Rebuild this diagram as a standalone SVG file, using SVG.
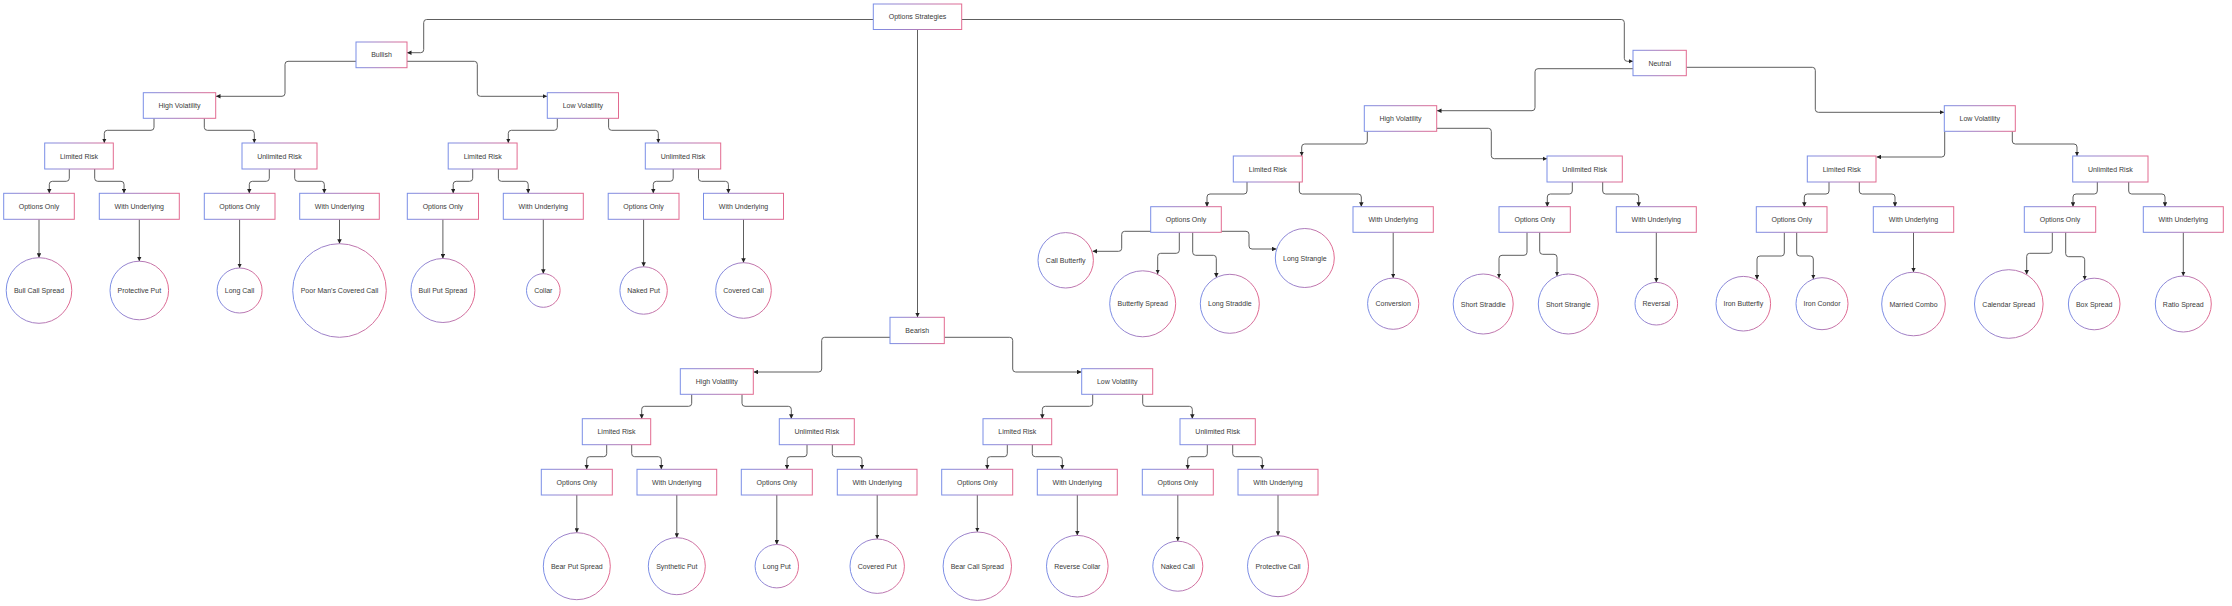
<svg xmlns="http://www.w3.org/2000/svg" width="2232" height="606" viewBox="0 0 2232 606">
<style>
.n rect,.n circle{fill:#ffffff;stroke:url(#g);stroke-width:1}
.n text{font-family:"Liberation Sans",Arial,sans-serif;font-size:7px;fill:#3a3a3a;text-anchor:middle;dominant-baseline:central}
#edges path{fill:none;stroke:#5e5e5e;stroke-width:1;marker-end:url(#arr)}
</style>
<defs>
<linearGradient id="g" x1="0" y1="0" x2="1" y2="0">
<stop offset="0" stop-color="#7a8ee6"/>
<stop offset="1" stop-color="#e26a90"/>
</linearGradient>
<marker id="arr" viewBox="0 0 10 10" refX="10" refY="5" markerUnits="userSpaceOnUse" markerWidth="4.5" markerHeight="4.5" orient="auto">
<path d="M0,0 L10,5 L0,10 z" fill="#222222"/>
</marker>
</defs>
<rect width="2232" height="606" fill="#ffffff"/>
<g id="edges">
<path d="M873.3,19.5 H426.7 Q423.7,19.5 423.7,22.5 V49.7 Q423.7,52.7 420.7,52.7 H407"/>
<path d="M961.7,19.5 H1621.3 Q1624.3,19.5 1624.3,22.5 V58.3 Q1624.3,61.3 1627.3,61.3 H1633"/>
<path d="M917.5,29.5 V317.3"/>
<path d="M356,61.3 H288 Q285,61.3 285,64.3 V93.3 Q285,96.3 282,96.3 H216"/>
<path d="M407,61.3 H474.3 Q477.3,61.3 477.3,64.3 V93.3 Q477.3,96.3 480.3,96.3 H547"/>
<path d="M154,118.3 V127.3 Q154,130.3 151,130.3 H107.3 Q104.3,130.3 104.3,133.3 V143"/>
<path d="M204.3,118.3 V127.3 Q204.3,130.3 207.3,130.3 H251.3 Q254.3,130.3 254.3,133.3 V143"/>
<path d="M69.3,169 V178.3 Q69.3,181.3 66.3,181.3 H52.3 Q49.3,181.3 49.3,184.3 V193.3"/>
<path d="M94.7,169 V178.3 Q94.7,181.3 97.7,181.3 H121 Q124,181.3 124,184.3 V193.3"/>
<path d="M269.3,169 V178.3 Q269.3,181.3 266.3,181.3 H252.3 Q249.3,181.3 249.3,184.3 V193.3"/>
<path d="M294.7,169 V178.3 Q294.7,181.3 297.7,181.3 H321.3 Q324.3,181.3 324.3,184.3 V193.3"/>
<path d="M557.3,118.3 V127.3 Q557.3,130.3 554.3,130.3 H511.3 Q508.3,130.3 508.3,133.3 V143"/>
<path d="M608.6,118.3 V127.3 Q608.6,130.3 611.6,130.3 H655.3 Q658.3,130.3 658.3,133.3 V143"/>
<path d="M472.7,169 V178.3 Q472.7,181.3 469.7,181.3 H456.2 Q453.2,181.3 453.2,184.3 V193.3"/>
<path d="M498.4,169 V178.3 Q498.4,181.3 501.4,181.3 H525.2 Q528.2,181.3 528.2,184.3 V193.3"/>
<path d="M673.2,169 V178.3 Q673.2,181.3 670.2,181.3 H656.3 Q653.3,181.3 653.3,184.3 V193.3"/>
<path d="M698.5,169 V178.3 Q698.5,181.3 701.5,181.3 H725.4 Q728.4,181.3 728.4,184.3 V193.3"/>
<path d="M39,219.3 V257.7"/>
<path d="M139.3,219.3 V261.2"/>
<path d="M239.6,219.3 V268"/>
<path d="M339.5,219.3 V243.7"/>
<path d="M442.9,219.3 V258.5"/>
<path d="M543.3,219.3 V273.7"/>
<path d="M643.6,219.3 V266.8"/>
<path d="M743.5,219.3 V262.7"/>
<path d="M890,337.3 H824.7 Q821.7,337.3 821.7,340.3 V369 Q821.7,372 818.7,372 H753.5"/>
<path d="M944.3,337.3 H1009.7 Q1012.7,337.3 1012.7,340.3 V369 Q1012.7,372 1015.7,372 H1081.5"/>
<path d="M691.7,394.3 V403.3 Q691.7,406.3 688.7,406.3 H644.7 Q641.7,406.3 641.7,409.3 V418.7"/>
<path d="M742,394.3 V403.3 Q742,406.3 745,406.3 H788.3 Q791.3,406.3 791.3,409.3 V418.7"/>
<path d="M606.7,444.7 V453.7 Q606.7,456.7 603.7,456.7 H589.7 Q586.7,456.7 586.7,459.7 V469.3"/>
<path d="M631.7,444.7 V453.7 Q631.7,456.7 634.7,456.7 H658.3 Q661.3,456.7 661.3,459.7 V469.3"/>
<path d="M807,444.7 V453.7 Q807,456.7 804,456.7 H790 Q787,456.7 787,459.7 V469.3"/>
<path d="M832.3,444.7 V453.7 Q832.3,456.7 835.3,456.7 H859 Q862,456.7 862,459.7 V469.3"/>
<path d="M1092.7,394.3 V403.3 Q1092.7,406.3 1089.7,406.3 H1045.3 Q1042.3,406.3 1042.3,409.3 V418.7"/>
<path d="M1142.7,394.3 V403.3 Q1142.7,406.3 1145.7,406.3 H1189.3 Q1192.3,406.3 1192.3,409.3 V418.7"/>
<path d="M1007.3,444.7 V453.7 Q1007.3,456.7 1004.3,456.7 H990.3 Q987.3,456.7 987.3,459.7 V469.3"/>
<path d="M1032.3,444.7 V453.7 Q1032.3,456.7 1035.3,456.7 H1059.3 Q1062.3,456.7 1062.3,459.7 V469.3"/>
<path d="M1207.3,444.7 V453.7 Q1207.3,456.7 1204.3,456.7 H1190.7 Q1187.7,456.7 1187.7,459.7 V469.3"/>
<path d="M1232.7,444.7 V453.7 Q1232.7,456.7 1235.7,456.7 H1259.3 Q1262.3,456.7 1262.3,459.7 V469.3"/>
<path d="M576.8,495 V532.7"/>
<path d="M676.8,495 V537.7"/>
<path d="M776.8,495 V544.5"/>
<path d="M877.2,495 V539"/>
<path d="M977.3,495 V532"/>
<path d="M1077.3,495 V535.4"/>
<path d="M1177.8,495 V541.2"/>
<path d="M1278,495 V535.7"/>
<path d="M1633,68.7 H1538 Q1535,68.7 1535,71.7 V107.7 Q1535,110.7 1532,110.7 H1437"/>
<path d="M1686.3,67.3 H1812.3 Q1815.3,67.3 1815.3,70.3 V109.3 Q1815.3,112.3 1818.3,112.3 H1944"/>
<path d="M1367.3,131.3 V141 Q1367.3,144 1364.3,144 H1304.7 Q1301.7,144 1301.7,147 V156"/>
<path d="M1436.7,128.3 H1488.3 Q1491.3,128.3 1491.3,131.3 V155.7 Q1491.3,158.7 1494.3,158.7 H1547"/>
<path d="M1247,182 V191 Q1247,194 1244,194 H1210 Q1207,194 1207,197 V206.7"/>
<path d="M1299.3,182 V191 Q1299.3,194 1302.3,194 H1358.3 Q1361.3,194 1361.3,197 V206.7"/>
<path d="M1151,231.3 H1124.7 Q1121.7,231.3 1121.7,234.3 V248.3 Q1121.7,251.3 1118.7,251.3 H1092.5"/>
<path d="M1179.3,232.3 V250.3 Q1179.3,253.3 1176.3,253.3 H1160.7 Q1157.7,253.3 1157.7,256.3 V274"/>
<path d="M1192.7,232.3 V252.3 Q1192.7,255.3 1195.7,255.3 H1213.3 Q1216.3,255.3 1216.3,258.3 V277.5"/>
<path d="M1221.3,231.3 H1246 Q1249,231.3 1249,234.3 V246 Q1249,249 1252,249 H1276.5"/>
<path d="M1393.2,232.3 V278.1"/>
<path d="M1572.3,182 V191 Q1572.3,194 1569.3,194 H1550.3 Q1547.3,194 1547.3,197 V206.7"/>
<path d="M1602.7,182 V191 Q1602.7,194 1605.7,194 H1635.7 Q1638.7,194 1638.7,197 V206.7"/>
<path d="M1527,232.3 V252.3 Q1527,255.3 1524,255.3 H1502 Q1499,255.3 1499,258.3 V278"/>
<path d="M1539.7,232.3 V251.3 Q1539.7,254.3 1542.7,254.3 H1554 Q1557,254.3 1557,257.3 V276"/>
<path d="M1656.3,232.3 V282.4"/>
<path d="M1944.7,131.3 V154 Q1944.7,157 1941.7,157 H1876.5"/>
<path d="M2012.3,131.3 V141 Q2012.3,144 2015.3,144 H2074 Q2077,144 2077,147 V156"/>
<path d="M1829,182 V191 Q1829,194 1826,194 H1807.3 Q1804.3,194 1804.3,197 V206.7"/>
<path d="M1859.3,182 V191 Q1859.3,194 1862.3,194 H1892 Q1895,194 1895,197 V206.7"/>
<path d="M1784.3,232.3 V253 Q1784.3,256 1781.3,256 H1760 Q1757,256 1757,259 V279.5"/>
<path d="M1796.7,232.3 V253 Q1796.7,256 1799.7,256 H1810.3 Q1813.3,256 1813.3,259 V279"/>
<path d="M1913.5,232.3 V272.2"/>
<path d="M2097.3,182 V191 Q2097.3,194 2094.3,194 H2076 Q2073,194 2073,197 V206.7"/>
<path d="M2128.7,182 V191 Q2128.7,194 2131.7,194 H2162 Q2165,194 2165,197 V206.7"/>
<path d="M2052.3,232.3 V250.3 Q2052.3,253.3 2049.3,253.3 H2029.7 Q2026.7,253.3 2026.7,256.3 V274.5"/>
<path d="M2065.7,232.3 V253.7 Q2065.7,256.7 2068.7,256.7 H2081.7 Q2084.7,256.7 2084.7,259.7 V280"/>
<path d="M2183.3,232.3 V276"/>
</g>
<g id="root" class="n"><rect x="873.3" y="4" width="88.4" height="25.5"/><text x="917.5" y="16.75">Options Strategies</text></g>
<g id="bullish" class="n"><rect x="356" y="42" width="51" height="25.7"/><text x="381.5" y="54.85">Bullish</text></g>
<g id="bu_hv" class="n"><rect x="143.3" y="92.7" width="72.4" height="25.6"/><text x="179.5" y="105.5">High Volatility</text></g>
<g id="bu_lv" class="n"><rect x="547.3" y="92.7" width="71.2" height="25.6"/><text x="582.9" y="105.5">Low Volatility</text></g>
<g id="bu_hv_lr" class="n"><rect x="44.7" y="143" width="68.6" height="26"/><text x="79" y="156">Limited Risk</text></g>
<g id="bu_hv_ur" class="n"><rect x="242" y="143" width="75" height="26"/><text x="279.5" y="156">Unlimited Risk</text></g>
<g id="bu_lv_lr" class="n"><rect x="448.2" y="143" width="68.9" height="26"/><text x="482.7" y="156">Limited Risk</text></g>
<g id="bu_lv_ur" class="n"><rect x="645.3" y="143" width="75.4" height="26"/><text x="683" y="156">Unlimited Risk</text></g>
<g id="bu_hv_lr_oo" class="n"><rect x="3.7" y="193.3" width="70.6" height="26"/><text x="39" y="206.3">Options Only</text></g>
<g id="bu_hv_lr_wu" class="n"><rect x="99.3" y="193.3" width="80" height="26"/><text x="139.3" y="206.3">With Underlying</text></g>
<g id="bu_hv_ur_oo" class="n"><rect x="204.3" y="193.3" width="70.7" height="26"/><text x="239.6" y="206.3">Options Only</text></g>
<g id="bu_hv_ur_wu" class="n"><rect x="299.7" y="193.3" width="79.6" height="26"/><text x="339.5" y="206.3">With Underlying</text></g>
<g id="bu_lv_lr_oo" class="n"><rect x="407.3" y="193.3" width="71.2" height="26"/><text x="442.9" y="206.3">Options Only</text></g>
<g id="bu_lv_lr_wu" class="n"><rect x="503.3" y="193.3" width="80" height="26"/><text x="543.3" y="206.3">With Underlying</text></g>
<g id="bu_lv_ur_oo" class="n"><rect x="608.2" y="193.3" width="70.8" height="26"/><text x="643.6" y="206.3">Options Only</text></g>
<g id="bu_lv_ur_wu" class="n"><rect x="703.5" y="193.3" width="80" height="26"/><text x="743.5" y="206.3">With Underlying</text></g>
<g id="bull_call_spread" class="n"><circle cx="39" cy="290.5" r="32.8"/><text x="39" y="290.5">Bull Call Spread</text></g>
<g id="protective_put" class="n"><circle cx="139.3" cy="290.5" r="29.3"/><text x="139.3" y="290.5">Protective Put</text></g>
<g id="long_call" class="n"><circle cx="239.6" cy="290.5" r="22.5"/><text x="239.6" y="290.5">Long Call</text></g>
<g id="pmcc" class="n"><circle cx="339.5" cy="290.5" r="46.8"/><text x="339.5" y="290.5">Poor Man's Covered Call</text></g>
<g id="bull_put_spread" class="n"><circle cx="442.9" cy="290.5" r="32"/><text x="442.9" y="290.5">Bull Put Spread</text></g>
<g id="collar" class="n"><circle cx="543.3" cy="290.5" r="16.8"/><text x="543.3" y="290.5">Collar</text></g>
<g id="naked_put" class="n"><circle cx="643.6" cy="290.5" r="23.7"/><text x="643.6" y="290.5">Naked Put</text></g>
<g id="covered_call" class="n"><circle cx="743.5" cy="290.5" r="27.8"/><text x="743.5" y="290.5">Covered Call</text></g>
<g id="bearish" class="n"><rect x="890" y="317.3" width="54.3" height="26.3"/><text x="917.2" y="330.5">Bearish</text></g>
<g id="be_hv" class="n"><rect x="680.3" y="368.7" width="73" height="25.6"/><text x="716.8" y="381.5">High Volatility</text></g>
<g id="be_lv" class="n"><rect x="1081.7" y="368.7" width="71" height="25.6"/><text x="1117.2" y="381.5">Low Volatility</text></g>
<g id="be_hv_lr" class="n"><rect x="582.3" y="418.7" width="68.4" height="26"/><text x="616.5" y="431.7">Limited Risk</text></g>
<g id="be_hv_ur" class="n"><rect x="779.3" y="418.7" width="75" height="26"/><text x="816.8" y="431.7">Unlimited Risk</text></g>
<g id="be_lv_lr" class="n"><rect x="983" y="418.7" width="68.7" height="26"/><text x="1017.3" y="431.7">Limited Risk</text></g>
<g id="be_lv_ur" class="n"><rect x="1180" y="418.7" width="75.3" height="26"/><text x="1217.7" y="431.7">Unlimited Risk</text></g>
<g id="be_hv_lr_oo" class="n"><rect x="541.3" y="469.3" width="71" height="25.7"/><text x="576.8" y="482.2">Options Only</text></g>
<g id="be_hv_lr_wu" class="n"><rect x="637" y="469.3" width="79.7" height="25.7"/><text x="676.8" y="482.2">With Underlying</text></g>
<g id="be_hv_ur_oo" class="n"><rect x="741.3" y="469.3" width="71" height="25.7"/><text x="776.8" y="482.2">Options Only</text></g>
<g id="be_hv_ur_wu" class="n"><rect x="837.3" y="469.3" width="79.7" height="25.7"/><text x="877.2" y="482.2">With Underlying</text></g>
<g id="be_lv_lr_oo" class="n"><rect x="941.7" y="469.3" width="71" height="25.7"/><text x="977.2" y="482.2">Options Only</text></g>
<g id="be_lv_lr_wu" class="n"><rect x="1037.3" y="469.3" width="80" height="25.7"/><text x="1077.3" y="482.2">With Underlying</text></g>
<g id="be_lv_ur_oo" class="n"><rect x="1142.3" y="469.3" width="71" height="25.7"/><text x="1177.8" y="482.2">Options Only</text></g>
<g id="be_lv_ur_wu" class="n"><rect x="1238" y="469.3" width="80" height="25.7"/><text x="1278" y="482.2">With Underlying</text></g>
<g id="bear_put_spread" class="n"><circle cx="576.8" cy="566.2" r="33.5"/><text x="576.8" y="566.2">Bear Put Spread</text></g>
<g id="synthetic_put" class="n"><circle cx="676.8" cy="566.2" r="28.5"/><text x="676.8" y="566.2">Synthetic Put</text></g>
<g id="long_put" class="n"><circle cx="776.8" cy="566.2" r="21.7"/><text x="776.8" y="566.2">Long Put</text></g>
<g id="covered_put" class="n"><circle cx="877.2" cy="566.2" r="27.2"/><text x="877.2" y="566.2">Covered Put</text></g>
<g id="bear_call_spread" class="n"><circle cx="977.3" cy="566.2" r="34.2"/><text x="977.3" y="566.2">Bear Call Spread</text></g>
<g id="reverse_collar" class="n"><circle cx="1077.3" cy="566.2" r="30.8"/><text x="1077.3" y="566.2">Reverse Collar</text></g>
<g id="naked_call" class="n"><circle cx="1177.8" cy="566.2" r="25"/><text x="1177.8" y="566.2">Naked Call</text></g>
<g id="protective_call" class="n"><circle cx="1278" cy="566.2" r="30.5"/><text x="1278" y="566.2">Protective Call</text></g>
<g id="neutral" class="n"><rect x="1633" y="50.3" width="53.3" height="25.4"/><text x="1659.7" y="63">Neutral</text></g>
<g id="ne_hv" class="n"><rect x="1364.3" y="105.7" width="72.4" height="25.6"/><text x="1400.5" y="118.5">High Volatility</text></g>
<g id="ne_lv" class="n"><rect x="1944.3" y="105.7" width="71" height="25.6"/><text x="1979.8" y="118.5">Low Volatility</text></g>
<g id="ne_hv_lr" class="n"><rect x="1233.3" y="156" width="69" height="26"/><text x="1267.8" y="169">Limited Risk</text></g>
<g id="ne_hv_ur" class="n"><rect x="1547" y="156" width="75.3" height="26"/><text x="1584.7" y="169">Unlimited Risk</text></g>
<g id="ne_lv_lr" class="n"><rect x="1807.3" y="156" width="68.7" height="26"/><text x="1841.7" y="169">Limited Risk</text></g>
<g id="ne_lv_ur" class="n"><rect x="2072.7" y="156" width="75.3" height="26"/><text x="2110.3" y="169">Unlimited Risk</text></g>
<g id="ne_hv_lr_oo" class="n"><rect x="1150.7" y="206.7" width="70.6" height="25.6"/><text x="1186" y="219.5">Options Only</text></g>
<g id="ne_hv_lr_wu" class="n"><rect x="1353" y="206.7" width="80.3" height="25.6"/><text x="1393.2" y="219.5">With Underlying</text></g>
<g id="ne_hv_ur_oo" class="n"><rect x="1499" y="206.7" width="71.3" height="25.6"/><text x="1534.7" y="219.5">Options Only</text></g>
<g id="ne_hv_ur_wu" class="n"><rect x="1616.3" y="206.7" width="80" height="25.6"/><text x="1656.3" y="219.5">With Underlying</text></g>
<g id="ne_lv_lr_oo" class="n"><rect x="1756.3" y="206.7" width="70.7" height="25.6"/><text x="1791.7" y="219.5">Options Only</text></g>
<g id="ne_lv_lr_wu" class="n"><rect x="1873.3" y="206.7" width="80.4" height="25.6"/><text x="1913.5" y="219.5">With Underlying</text></g>
<g id="ne_lv_ur_oo" class="n"><rect x="2024.3" y="206.7" width="71.4" height="25.6"/><text x="2060" y="219.5">Options Only</text></g>
<g id="ne_lv_ur_wu" class="n"><rect x="2143.3" y="206.7" width="80" height="25.6"/><text x="2183.3" y="219.5">With Underlying</text></g>
<g id="call_butterfly" class="n"><circle cx="1065.7" cy="260.3" r="27.7"/><text x="1065.7" y="260.3">Call Butterfly</text></g>
<g id="butterfly_spread" class="n"><circle cx="1142.7" cy="303.8" r="33"/><text x="1142.7" y="303.8">Butterfly Spread</text></g>
<g id="long_straddle" class="n"><circle cx="1229.8" cy="303.8" r="29.5"/><text x="1229.8" y="303.8">Long Straddle</text></g>
<g id="long_strangle" class="n"><circle cx="1304.8" cy="258" r="29.5"/><text x="1304.8" y="258">Long Strangle</text></g>
<g id="conversion" class="n"><circle cx="1393.2" cy="303.7" r="25.6"/><text x="1393.2" y="303.7">Conversion</text></g>
<g id="short_straddle" class="n"><circle cx="1483.2" cy="304" r="30"/><text x="1483.2" y="304">Short Straddle</text></g>
<g id="short_strangle" class="n"><circle cx="1568.3" cy="304" r="30"/><text x="1568.3" y="304">Short Strangle</text></g>
<g id="reversal" class="n"><circle cx="1656.3" cy="303.7" r="21.3"/><text x="1656.3" y="303.7">Reversal</text></g>
<g id="iron_butterfly" class="n"><circle cx="1743.3" cy="303.7" r="27.3"/><text x="1743.3" y="303.7">Iron Butterfly</text></g>
<g id="iron_condor" class="n"><circle cx="1822" cy="303.7" r="26"/><text x="1822" y="303.7">Iron Condor</text></g>
<g id="married_combo" class="n"><circle cx="1913.5" cy="304" r="31.8"/><text x="1913.5" y="304">Married Combo</text></g>
<g id="calendar_spread" class="n"><circle cx="2008.8" cy="304" r="34.3"/><text x="2008.8" y="304">Calendar Spread</text></g>
<g id="box_spread" class="n"><circle cx="2094.2" cy="304" r="25.8"/><text x="2094.2" y="304">Box Spread</text></g>
<g id="ratio_spread" class="n"><circle cx="2183.3" cy="304" r="28"/><text x="2183.3" y="304">Ratio Spread</text></g>
</svg>
